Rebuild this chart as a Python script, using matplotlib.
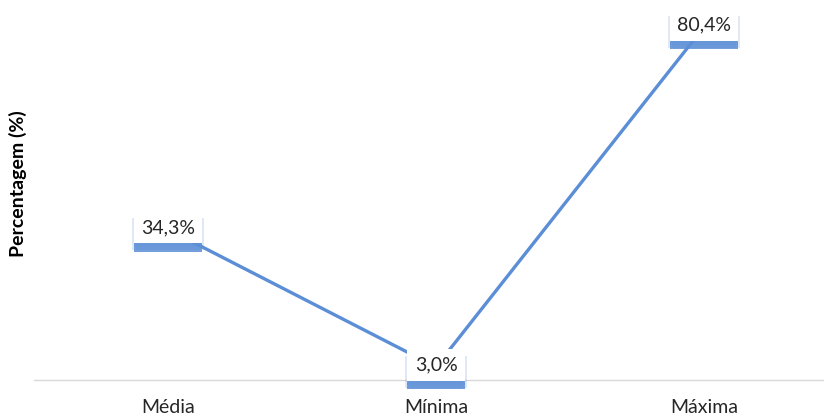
import matplotlib.pyplot as plt
import matplotlib.patheffects as pe

categorias = ["Média", "Mínima", "Máxima"]
valores = [34.3, 3.0, 80.4]
rotulos = ["34,3%", "3,0%", "80,4%"]

azul = "#5b8ed6"

fig = plt.figure(figsize=(8.24, 4.17), dpi=100)
ax = fig.add_axes([34 / 824, 37 / 417, 804 / 824, 375 / 417])

x = range(len(categorias))
ax.plot(x, valores, color=azul, linewidth=2.4, solid_capstyle="round", zorder=2)

for xi, v, r in zip(x, valores, rotulos):
    t = ax.annotate(r, (xi, v), xytext=(0, 2), textcoords="offset pixels",
                    ha="center", va="center", fontsize=14, family="Lato", color="#262626",
                    bbox=dict(boxstyle="square,pad=0.38", fc="white", ec="none"), zorder=5)
    t.get_bbox_patch().set_path_effects([
        pe.SimplePatchShadow(offset=(0, -3), shadow_rgbFace=azul, alpha=0.15),
        pe.SimplePatchShadow(offset=(-1.5, -5), shadow_rgbFace=azul, alpha=0.2),
        pe.SimplePatchShadow(offset=(1.5, -5), shadow_rgbFace=azul, alpha=0.2),
        pe.SimplePatchShadow(offset=(0, -6), shadow_rgbFace=azul, alpha=0.85),
        pe.Normal(),
    ])

ax.set_xlim(-0.5, 2.5)
ax.set_ylim(0, 85.4)
ax.set_xticks(list(x))
ax.set_xticklabels(categorias, fontsize=14, family="Lato", color="#262626")
ax.tick_params(axis="x", length=0, pad=14)
ax.set_yticks([])
for s in ["top", "right", "left"]:
    ax.spines[s].set_visible(False)
ax.spines["bottom"].set_color("#d9d9d9")
ax.spines["bottom"].set_linewidth(1)

fig.text(18 / 824, 1 - 184 / 417, "Percentagem (%)", rotation=90, ha="center", va="center",
         fontsize=14, family="Lato", fontweight="bold", color="black")

fig.savefig("out.png", dpi=100)
